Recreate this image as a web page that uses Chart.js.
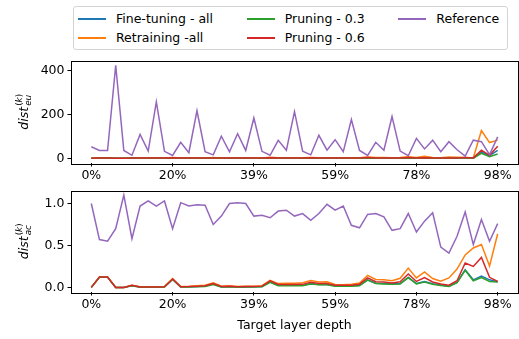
<!DOCTYPE html>
<html>
<head>
<meta charset="utf-8">
<script src="https://cdn.jsdelivr.net/npm/chart.js@4.4.0/dist/chart.umd.min.js"></script>
<style>
    html, body { margin: 0; padding: 0; background: #fff; }
    #wrap { position: relative; width: 519px; height: 339px; overflow: hidden; font-family: "DejaVu Sans", sans-serif; }
    canvas { position: absolute; left: 0; }
    #chart-eu { top: 50px; }
    #chart-ac { top: 180px; }
    #legend {
        position: absolute; left: 73px; top: 6px; width: 435px; height: 44px;
        box-sizing: border-box; border: 1px solid #d4d4d4; border-radius: 3px;
        background: rgba(255,255,255,0.8); z-index: 2;
        display: grid; grid-auto-flow: column; grid-template-rows: 19px 19px;
        column-gap: 26px; padding: 2px 0 0 4px; font-size: 12.5px; color: #000;
    }
    .item { display: flex; align-items: center; white-space: nowrap; }
    .swatch { display: inline-block; width: 28px; height: 2px; margin-right: 10px; }
</style>
</head>
<body>
<div id="wrap">
    <div id="legend"></div>
    <canvas id="chart-eu" width="519" height="135"></canvas>
    <canvas id="chart-ac" width="519" height="159"></canvas>
</div>
<script>
// x axis: 51 target layers, ticks every 10 layers
const depthTicks = [0, 10, 20, 30, 40, 50];
const depthLabels = ['0%', '20%', '39%', '59%', '78%', '98%'];

const seriesNames = ['Fine-tuning - all', 'Retraining -all', 'Pruning - 0.3', 'Pruning - 0.6', 'Reference'];
const seriesColors = ['#1f77b4', '#ff7f0e', '#2ca02c', '#d62728', '#9467bd'];

const yTicksEu = [0, 200, 400];
const yLabelsEu = ['0', '200', '400'];
const yTicksAc = [0, 0.5, 1.0];
const yLabelsAc = ['0.0', '0.5', '1.0'];

// dist_eu (top panel)
const ftEu  = [0,2,2,0,0,1,0,0,0,0,2,0,0,0,1,1,0,0,0,0,0,0,2,1,1,1,1,1,1,1,1,1,1,1,2,1,1,1,1,2,1,1,1,1,0,1,3,1,29,12,36];
const rtEu  = [0,3,3,0,0,2,1,1,1,1,4,1,1,2,2,4,1,2,1,1,1,2,5,3,3,3,3,4,3,3,2,2,2,3,6,4,4,3,4,7,4,10,4,3,6,5,4,2,127,72,83];
const p03Eu = [0,1,1,0,0,1,0,0,0,0,1,0,0,0,0,1,0,0,0,0,0,0,1,0,0,0,0,1,0,0,0,0,0,0,1,0,0,0,0,1,0,1,0,0,0,1,2,1,23,7,20];
const p06Eu = [0,2,2,0,0,1,1,1,1,1,3,1,1,1,2,2,1,1,1,1,1,1,3,2,2,2,2,3,2,2,2,2,2,2,4,2,2,2,2,4,2,3,2,2,1,2,4,2,37,14,55];
const refEu = [53,36,36,424,36,14,109,33,258,32,13,73,26,217,30,16,101,30,112,36,184,32,14,82,37,213,33,16,105,37,85,30,177,36,13,73,37,191,33,12,91,43,83,30,76,39,10,83,76,17,98];

// dist_ac (bottom panel)
const ftAc  = [0,0.122,0.122,0,0,0.022,0.004,0.004,0.005,0.007,0.097,0.006,0.007,0.01,0.015,0.04,0.006,0.01,0.005,0.006,0.007,0.01,0.065,0.025,0.025,
               0.024,0.024,0.046,0.035,0.035,0.019,0.017,0.019,0.024,0.09,0.05,0.046,0.043,0.046,0.12,0.046,0.07,0.043,0.028,0.015,0.06,0.21,0.09,0.135,0.09,0.068];
const rtAc  = [0,0.124,0.124,0,0,0.026,0.008,0.008,0.008,0.01,0.105,0.01,0.012,0.02,0.026,0.055,0.014,0.02,0.012,0.014,0.015,0.02,0.085,0.045,0.05,
               0.05,0.056,0.083,0.064,0.068,0.034,0.03,0.038,0.053,0.143,0.094,0.09,0.079,0.109,0.23,0.113,0.184,0.105,0.075,0.113,0.218,0.387,0.47,0.51,0.256,0.64];
const p03Ac = [0,0.12,0.12,0,0,0.02,0.002,0.002,0.003,0.005,0.095,0.004,0.005,0.008,0.012,0.035,0.004,0.008,0.003,0.004,0.005,0.008,0.06,0.02,0.02,
               0.019,0.019,0.041,0.03,0.03,0.015,0.013,0.015,0.019,0.086,0.045,0.041,0.038,0.041,0.117,0.041,0.064,0.038,0.023,0.011,0.056,0.203,0.079,0.117,0.071,0.064];
const p06Ac = [0,0.124,0.124,0,0,0.024,0.006,0.006,0.006,0.008,0.10,0.008,0.01,0.015,0.02,0.045,0.01,0.015,0.008,0.01,0.012,0.015,0.078,0.035,0.035,
               0.034,0.036,0.06,0.045,0.045,0.026,0.024,0.026,0.038,0.113,0.068,0.064,0.053,0.068,0.16,0.071,0.117,0.064,0.041,0.026,0.079,0.29,0.25,0.357,0.12,0.071];
const refAc = [1.0,0.57,0.55,0.70,1.10,0.58,0.97,1.03,0.97,1.03,0.70,1.01,0.97,0.985,0.98,0.75,0.85,1.0,1.01,1.0,0.85,0.86,0.83,0.91,0.92,
               0.85,0.88,0.80,0.88,0.99,0.92,0.97,0.74,0.71,0.87,0.88,0.84,0.68,0.70,0.88,0.66,0.79,0.89,0.48,0.41,0.61,0.90,0.51,0.81,0.55,0.76];

const FONT = '"DejaVu Sans", sans-serif';
Chart.defaults.font.family = FONT;
Chart.defaults.font.size = 12.5;
Chart.defaults.color = '#000';

// legend (matplotlib style, filled column by column)
const legendEl = document.getElementById('legend');
seriesNames.forEach((name, i) => {
    const item = document.createElement('div');
    item.className = 'item';
    const swatch = document.createElement('span');
    swatch.className = 'swatch';
    swatch.style.backgroundColor = seriesColors[i];
    const text = document.createElement('span');
    text.textContent = name;
    item.appendChild(swatch);
    item.appendChild(text);
    legendEl.appendChild(item);
});

/**
 * Axes box on top of the lines
 */
const framePlugin = {
    id: 'frame',
    afterDatasetsDraw(chart) {
        const { ctx, chartArea: a } = chart;
        ctx.save();
        ctx.strokeStyle = '#000';
        ctx.lineWidth = 1;
        ctx.strokeRect(Math.round(a.left) + 0.5, Math.round(a.top) + 0.5,
            Math.round(a.right - a.left), Math.round(a.bottom - a.top));
        ctx.restore();
    }
};

/**
 * Rotated y label like $dist^{(k)}_{sub}$
 */
const distLabelPlugin = {
    id: 'distLabel',
    afterDraw(chart, args, opts) {
        const { ctx, chartArea: a } = chart;
        const big = 12.5, small = 8.9;
        ctx.save();
        ctx.translate(27.5, (a.top + a.bottom) / 2);
        ctx.rotate(-Math.PI / 2);
        ctx.fillStyle = '#000';
        ctx.textBaseline = 'alphabetic';
        ctx.textAlign = 'left';

        ctx.font = `italic ${big}px ${FONT}`;
        const wBase = ctx.measureText('dist').width;
        ctx.font = `italic ${small}px ${FONT}`;
        const wSub = ctx.measureText(opts.sub).width;
        const wK = ctx.measureText('k').width;
        ctx.font = `${small}px ${FONT}`;
        const wPar = ctx.measureText('(').width;
        const wSup = wPar * 2 + wK;
        const total = wBase + 1 + Math.max(wSub, wSup);

        let x = -total / 2;
        ctx.font = `italic ${big}px ${FONT}`;
        ctx.fillText('dist', x, 0);
        x += wBase + 1;
        ctx.font = `italic ${small}px ${FONT}`;
        ctx.fillText(opts.sub, x, 3);
        ctx.font = `${small}px ${FONT}`;
        ctx.fillText('(', x, -6);
        ctx.font = `italic ${small}px ${FONT}`;
        ctx.fillText('k', x + wPar, -6);
        ctx.font = `${small}px ${FONT}`;
        ctx.fillText(')', x + wPar + wK, -6);
        ctx.restore();
    }
};

function buildDatasets(series) {
    // later series drawn on top, like matplotlib plotting order
    return series.map((vals, i) => ({
        label: seriesNames[i],
        data: vals.map((v, k) => ({ x: k, y: v })),
        borderColor: seriesColors[i],
        backgroundColor: seriesColors[i],
        borderWidth: 1.5,
        pointRadius: 0,
        tension: 0,
        fill: false,
        order: series.length - i
    }));
}

function makePanel(canvasId, series, yMin, yMax, yTicks, yLabels, sub, axisHeight, padTop, withTitle) {
    const ctx = document.getElementById(canvasId).getContext('2d');
    return new Chart(ctx, {
        type: 'line',
        data: { datasets: buildDatasets(series) },
        options: {
            responsive: false,
            animation: false,
            layout: { padding: { top: padTop, right: 1, left: 0, bottom: 0 } },
            plugins: {
                legend: { display: false },
                tooltip: { enabled: false },
                distLabel: { sub }
            },
            scales: {
                x: {
                    type: 'linear',
                    min: -2.5,
                    max: 52.5,
                    afterBuildTicks: s => { s.ticks = depthTicks.map(v => ({ value: v })); },
                    afterFit: s => { s.height = axisHeight; },
                    ticks: {
                        autoSkip: false,
                        maxRotation: 0,
                        padding: 2,
                        callback: (v, i) => depthLabels[i]
                    },
                    grid: { drawOnChartArea: false, drawTicks: true, tickLength: 3.5, color: '#000', lineWidth: 1 },
                    border: { display: false },
                    title: {
                        display: withTitle,
                        text: 'Target layer depth',
                        font: { size: 12.5 },
                        padding: { top: 0, bottom: 6 }
                    }
                },
                y: {
                    min: yMin,
                    max: yMax,
                    afterBuildTicks: s => { s.ticks = yTicks.map(v => ({ value: v })); },
                    afterFit: s => { s.width = 71; },
                    ticks: { padding: 3, callback: (v, i) => yLabels[i] },
                    grid: { drawOnChartArea: false, drawTicks: true, tickLength: 3.5, color: '#000', lineWidth: 1 },
                    border: { display: false }
                }
            }
        },
        plugins: [framePlugin, distLabelPlugin]
    });
}

makePanel('chart-eu', [ftEu, rtEu, p03Eu, p06Eu, refEu], -21.25, 446.25, yTicksEu, yLabelsEu, 'eu', 22, 5, false);
makePanel('chart-ac', [ftAc, rtAc, p03Ac, p06Ac, refAc], -0.055, 1.155, yTicksAc, yLabelsAc, 'ac', 47, 4, true);
</script>
</body>
</html>
